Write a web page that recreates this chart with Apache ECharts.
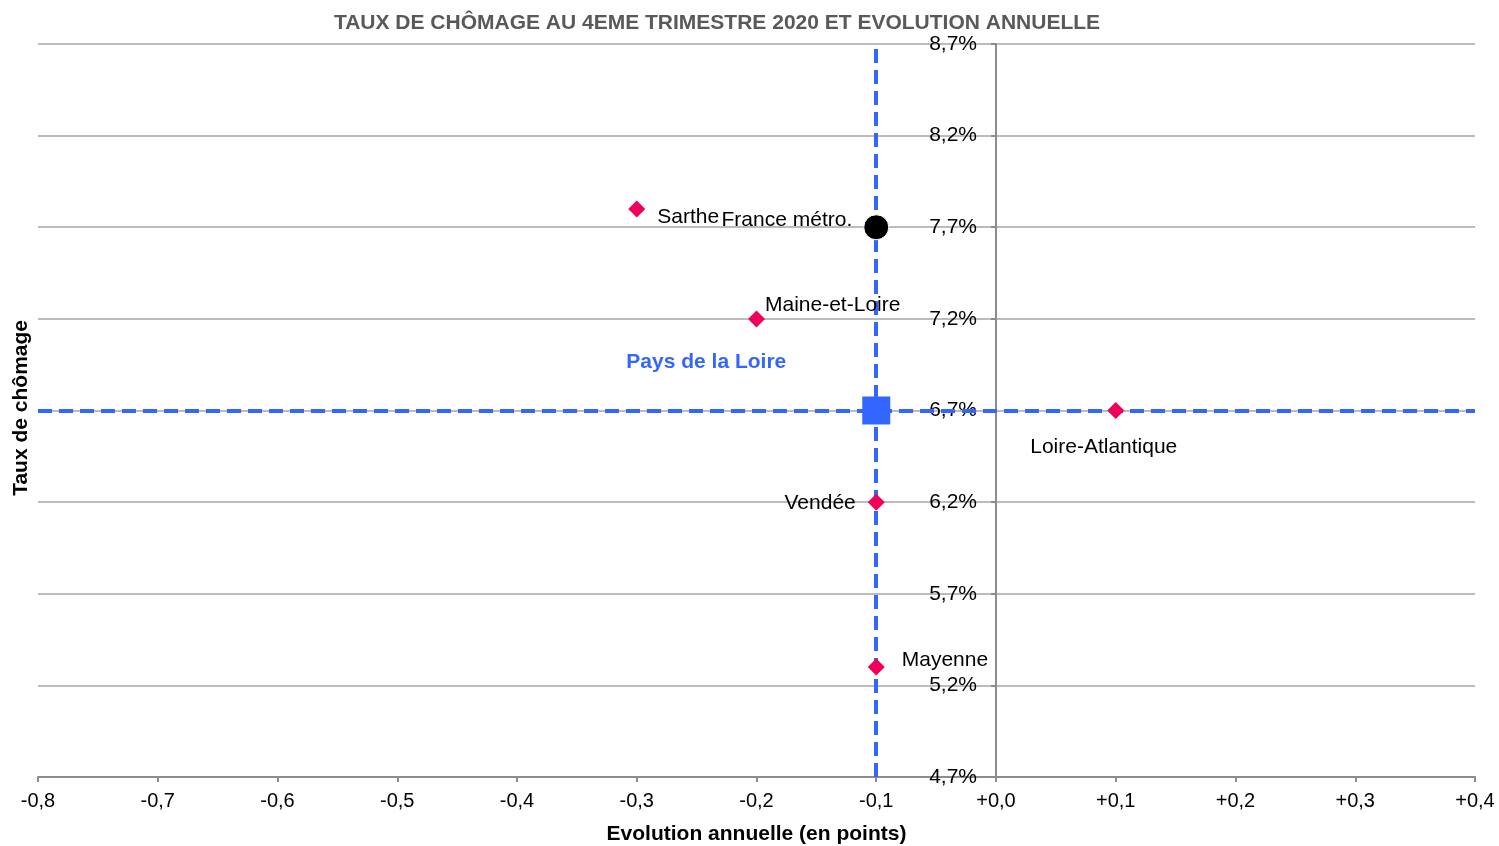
<!DOCTYPE html>
<html>
<head>
    <meta charset="utf-8">
    <title>Taux de chômage</title>
    <script src="https://cdn.jsdelivr.net/npm/echarts@6/dist/echarts.min.js"></script>
    <style>
        body { margin: 0; }
        #main { width: 1499px; height: 846px; }
    </style>
</head>
<body>
    <div id="main"></div>
    <script>
        // donnees : evolution annuelle (points) et taux (%)
        var depts = ['Sarthe', 'Maine-et-Loire', 'Loire-Atlantique', 'Vendée', 'Mayenne'];
        var deptEvol = [-0.3, -0.2, 0.1, -0.1, -0.1];
        var deptTaux = [7.8, 7.2, 6.7, 6.2, 5.3];
        var france = { name: 'France métro.', evol: -0.1, taux: 7.7 };
        var region = { name: 'Pays de la Loire', evol: -0.1, taux: 6.7 };
        var yTicks = [4.7, 5.2, 5.7, 6.2, 6.7, 7.2, 7.7, 8.2, 8.7];

        // l'axe y commence a 4,7 : on decale pour que min soit un multiple de l'intervalle
        var base = yTicks[0];
        var FONT = 'Liberation Sans, Arial';
        var labelPos = {
            'Sarthe': { position: 'right', offset: [7, 8] },
            'Maine-et-Loire': { position: 'right', offset: [-5, -14] },
            'Loire-Atlantique': { position: 'bottom', offset: [-12, 13] },
            'Vendée': { position: 'left', offset: [-7, 1] },
            'Mayenne': { position: 'right', offset: [12, -7] }
        };
        var txt = { fontFamily: FONT, fontSize: 21, color: '#000' };

        var myChart = echarts.init(document.getElementById('main'));
        myChart.setOption({
            animation: false,
            title: {
                text: 'TAUX DE CHÔMAGE AU 4EME TRIMESTRE 2020 ET EVOLUTION ANNUELLE',
                left: 712, top: 8, textAlign: 'center',
                textStyle: { fontFamily: FONT, fontSize: 21, fontWeight: 'bold', color: '#595959' }
            },
            grid: { left: 38, right: 24, top: 44, bottom: 69, outerBoundsMode: 'none' },
            graphic: [{
                type: 'text', left: 11, top: 320, rotation: Math.PI / 2,
                style: { text: 'Taux de chômage', font: 'bold 21px Liberation Sans, Arial', fill: '#000' }
            }],
            xAxis: {
                type: 'value', min: -0.8, max: 0.4, interval: 0.1,
                name: 'Evolution annuelle (en points)', nameLocation: 'middle', nameGap: 47,
                nameTextStyle: { fontFamily: FONT, fontSize: 21, fontWeight: 'bold', color: '#000' },
                axisLine: { onZero: false, lineStyle: { color: '#8c8c8c', width: 2 } },
                axisTick: { show: true, length: 5, lineStyle: { color: '#8c8c8c', width: 2 } },
                splitLine: { show: false },
                axisLabel: {
                    margin: 14, fontFamily: FONT, fontSize: 20, color: '#000',
                    formatter: function (v) {
                        var s = Math.abs(v).toFixed(1).replace('.', ',');
                        return (v < -1e-9 ? '-' : '+') + s;
                    }
                }
            },
            yAxis: {
                type: 'value', min: 0, max: yTicks[yTicks.length - 1] - base, interval: 0.5,
                axisLine: { onZero: false, lineStyle: { color: '#8c8c8c', width: 2 } },
                axisTick: { show: true, length: 5, lineStyle: { color: '#8c8c8c', width: 2 } },
                splitLine: { lineStyle: { color: '#a6a6a6', width: 1.5 } },
                axisLabel: {
                    margin: 19, fontFamily: FONT, fontSize: 21, color: '#000',
                    formatter: function (v) { return (v + base).toFixed(1).replace('.', ',') + '%'; }
                }
            },
            series: [{
                name: 'region',
                type: 'scatter',
                z: 3,
                symbol: 'rect', symbolSize: 28,
                itemStyle: { color: '#3366ff', opacity: 1 },
                label: {
                    show: true, position: 'left', offset: [-71, -48],
                    formatter: region.name,
                    fontFamily: FONT, fontSize: 21, fontWeight: 'bold', color: '#3366ff'
                },
                data: [[region.evol, region.taux - base]],
                markLine: {
                    silent: true, symbol: 'none', label: { show: false }, z: 2,
                    lineStyle: { color: '#3366ff', width: 4, type: [14, 7], opacity: 1 },
                    data: [{ xAxis: region.evol }, { yAxis: region.taux - base }]
                }
            }, {
                name: 'france',
                type: 'scatter',
                z: 6,
                symbol: 'circle', symbolSize: 25,
                itemStyle: { color: '#000', borderColor: '#fff', borderWidth: 1, opacity: 1 },
                label: Object.assign({ show: true, position: 'left', offset: [-6, -7], formatter: france.name }, txt),
                data: [[france.evol, france.taux - base]]
            }, {
                name: 'departements',
                type: 'scatter',
                z: 6,
                symbol: 'diamond', symbolSize: 17,
                itemStyle: { color: '#f0005a', opacity: 1 },
                data: depts.map(function (d, i) {
                    return {
                        name: d,
                        value: [deptEvol[i], deptTaux[i] - base],
                        label: Object.assign({ show: true, formatter: d }, txt, labelPos[d])
                    };
                })
            }]
        });

        // l'axe des taux croise l'axe des abscisses en 0
        var x0 = myChart.convertToPixel({ xAxisIndex: 0 }, 0);
        myChart.setOption({ yAxis: { offset: -(x0 - 38) } });
    </script>
</body>
</html>
